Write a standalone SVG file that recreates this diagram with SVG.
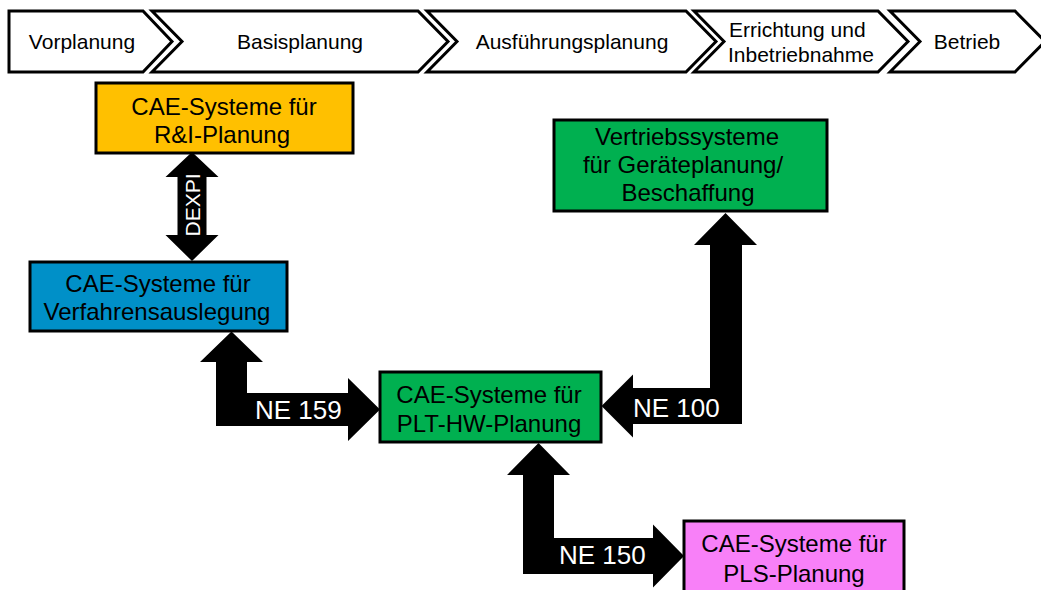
<svg xmlns="http://www.w3.org/2000/svg" width="1041" height="590" viewBox="0 0 1041 590">
<style>
.ph{fill:#fff;stroke:#000;stroke-width:3;stroke-linejoin:miter}
.pt{font-family:"Liberation Sans",Arial,sans-serif;font-size:21px;fill:#000}
.box{stroke:#000;stroke-width:3}
.bt{font-family:"Liberation Sans",Arial,sans-serif;font-size:24px;fill:#000;text-anchor:middle}
.arr{fill:#000}
.lbl{font-family:"Liberation Sans",Arial,sans-serif;font-size:26px;fill:#fff}
</style>
<rect width="1041" height="590" fill="#fff"/>
<g id="phases">
  <g id="phase-vorplanung">
    <polygon class="ph" points="9,11 143,11 172,41.5 143,72 9,72"/>
    <text class="pt" x="82" y="49" text-anchor="middle">Vorplanung</text>
  </g>
  <g id="phase-basisplanung">
    <polygon class="ph" points="152,11 418,11 448,41.5 418,72 152,72 182,41.5"/>
    <text class="pt" x="300" y="49" text-anchor="middle">Basisplanung</text>
  </g>
  <g id="phase-ausfuehrungsplanung">
    <polygon class="ph" points="427,11 686,11 716,41.5 686,72 427,72 457,41.5"/>
    <text class="pt" x="572" y="49" text-anchor="middle">Ausführungsplanung</text>
  </g>
  <g id="phase-errichtung">
    <polygon class="ph" points="694,11 878,11 908,41.5 878,72 694,72 724,41.5"/>
    <text class="pt" x="729" y="36.5">Errichtung und</text>
    <text class="pt" x="728" y="61.5">Inbetriebnahme</text>
  </g>
  <g id="phase-betrieb">
    <polygon class="ph" points="890,11 1015,11 1045,41.5 1015,72 890,72 920,41.5"/>
    <text class="pt" x="967" y="49" text-anchor="middle">Betrieb</text>
  </g>
</g>
<g id="connectors">
  <g id="conn-dexpi">
    <polygon class="arr" points="192,152 218.5,177 206.5,177 206.5,235 218.5,235 192,261 165.5,235 177.5,235 177.5,177 165.5,177"/>
    <text class="lbl" style="font-size:21px" text-anchor="middle" transform="translate(199.5,205) rotate(-90)">DEXPI</text>
  </g>
  <g id="conn-ne159">
    <polygon class="arr" points="231.5,331.5 263,362 247,362 247,393 348,393 348,378 380,409.5 348,441 348,426 216,426 216,362 200,362"/>
    <text class="lbl" x="255" y="419">NE 159</text>
  </g>
  <g id="conn-ne100">
    <polygon class="arr" points="725.5,213 757,245 742,245 742,424 633,424 633,437.5 601.5,406 633,374.5 633,388 710,388 710,245 694,245"/>
    <text class="lbl" x="633" y="417">NE 100</text>
  </g>
  <g id="conn-ne150">
    <polygon class="arr" points="538.5,443 570,475 554,475 554,538 653,538 653,524.5 684,556 653,587.5 653,574 523,574 523,475 507,475"/>
    <text class="lbl" x="559" y="564">NE 150</text>
  </g>
</g>
<g id="node-ri">
  <rect class="box" x="96" y="83" width="257" height="70" fill="#FFC000"/>
  <text class="bt" x="224" y="114.5">CAE-Systeme für</text>
  <text class="bt" x="222" y="142.5">R&amp;I-Planung</text>
</g>
<g id="node-verfahren">
  <rect class="box" x="30" y="262" width="257" height="69" fill="#0090C8"/>
  <text class="bt" x="158" y="291.5">CAE-Systeme für</text>
  <text class="bt" x="157" y="320">Verfahrensauslegung</text>
</g>
<g id="node-vertrieb">
  <rect class="box" x="554" y="120" width="273" height="91" fill="#00B050"/>
  <text class="bt" x="687" y="145">Vertriebssysteme</text>
  <text class="bt" x="683" y="173">für Geräteplanung/</text>
  <text class="bt" x="688" y="201">Beschaffung</text>
</g>
<g id="node-plt">
  <rect class="box" x="380" y="372" width="221" height="70" fill="#00B050"/>
  <text class="bt" x="489" y="403">CAE-Systeme für</text>
  <text class="bt" x="489" y="431.5">PLT-HW-Planung</text>
</g>
<g id="node-pls">
  <rect class="box" x="684" y="521" width="220" height="72" fill="#F880F8"/>
  <text class="bt" x="794" y="552">CAE-Systeme für</text>
  <text class="bt" x="794" y="581.5">PLS-Planung</text>
</g>
</svg>
